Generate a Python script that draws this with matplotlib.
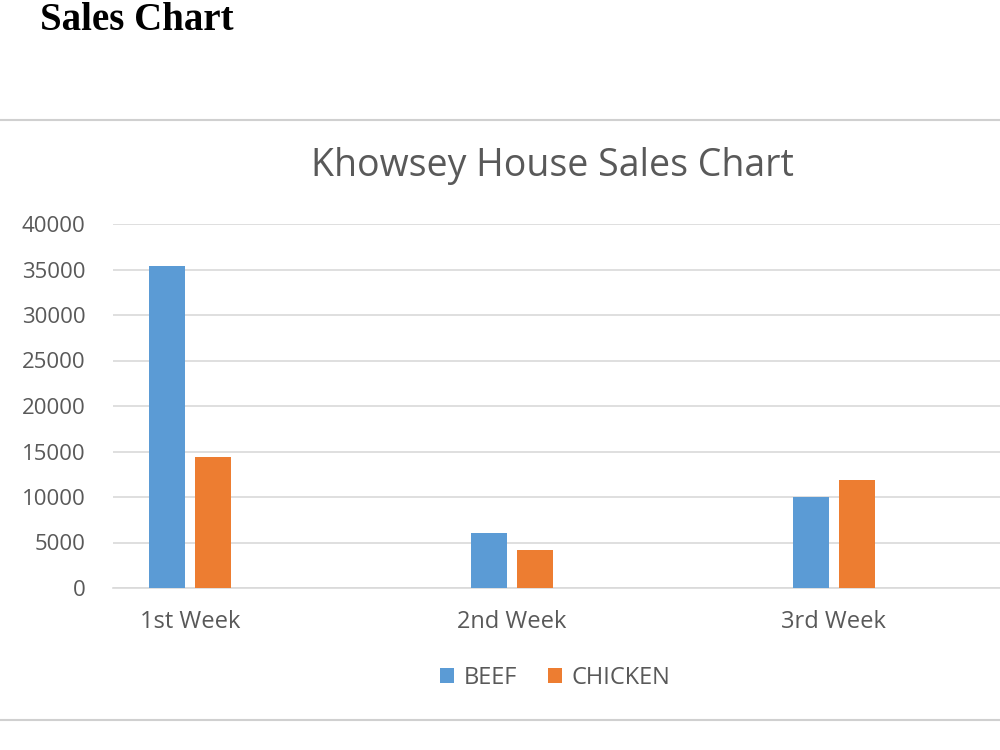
import numpy as np
import matplotlib.pyplot as plt
from matplotlib.lines import Line2D

weeks = ['1st Week', '2nd Week', '3rd Week']
beef = [35400, 6000, 10000]
chicken = [14400, 4200, 11900]
series_names = ['BEEF', 'CHICKEN']
yticks = [0, 5000, 10000, 15000, 20000, 25000, 30000, 35000, 40000]

blue = '#5B9BD5'
orange = '#ED7D31'
grey_txt = '#595959'

fig = plt.figure(figsize=(10, 7.5), dpi=100)
fig.patch.set_facecolor('white')

# page heading and chart frame
fig.text(0.04, 0.973, 'Sales Chart', family='Liberation Serif', fontweight='bold',
         fontsize=28, ha='left', va='center', color='black')
fig.add_artist(Line2D([0, 1], [1 - 120/750, 1 - 120/750], color='#d0d0d0', lw=1.5))
fig.add_artist(Line2D([0, 1], [1 - 720/750, 1 - 720/750], color='#d0d0d0', lw=1.5))

ax = fig.add_axes([0.113, 1 - 588/750, 0.887, (588 - 224)/750])
x = np.arange(len(weeks))
w = 0.112
off = 0.071
ax.bar(x - off, beef, width=w, color=blue, label=series_names[0], zorder=3)
ax.bar(x + off, chicken, width=w, color=orange, label=series_names[1], zorder=3)

ax.set_xlim(-0.239, 2.516)
ax.set_ylim(0, 40000)
ax.set_yticks(yticks)
ax.set_yticklabels([str(v) for v in yticks])
ax.set_xticks(x)
ax.set_xticklabels(weeks)
ax.yaxis.grid(True, color='#d9d9d9', lw=1.2, zorder=0)
ax.set_axisbelow(True)
for s in ['top', 'right', 'left']:
    ax.spines[s].set_visible(False)
ax.spines['bottom'].set_color('#d9d9d9')
ax.spines['bottom'].set_linewidth(1.2)
ax.tick_params(axis='both', length=0, colors=grey_txt)
ax.tick_params(axis='y', pad=20, labelsize=16)
ax.tick_params(axis='x', pad=16, labelsize=17)
for lbl in ax.get_xticklabels() + ax.get_yticklabels():
    lbl.set_family('Open Sans')

fig.text(0.552, 1 - 166/750, 'Khowsey House Sales Chart', family='Open Sans',
         fontsize=27, color=grey_txt, ha='center', va='center')

leg = fig.legend(loc='center', bbox_to_anchor=(0.555, 1 - 678/750), ncol=2, frameon=False,
                 handlelength=0.6, handleheight=0.6, handletextpad=0.4, columnspacing=1.3,
                 prop={'family': 'Open Sans', 'size': 17})
for t in leg.get_texts():
    t.set_color(grey_txt)

plt.savefig('out.png', dpi=100)
